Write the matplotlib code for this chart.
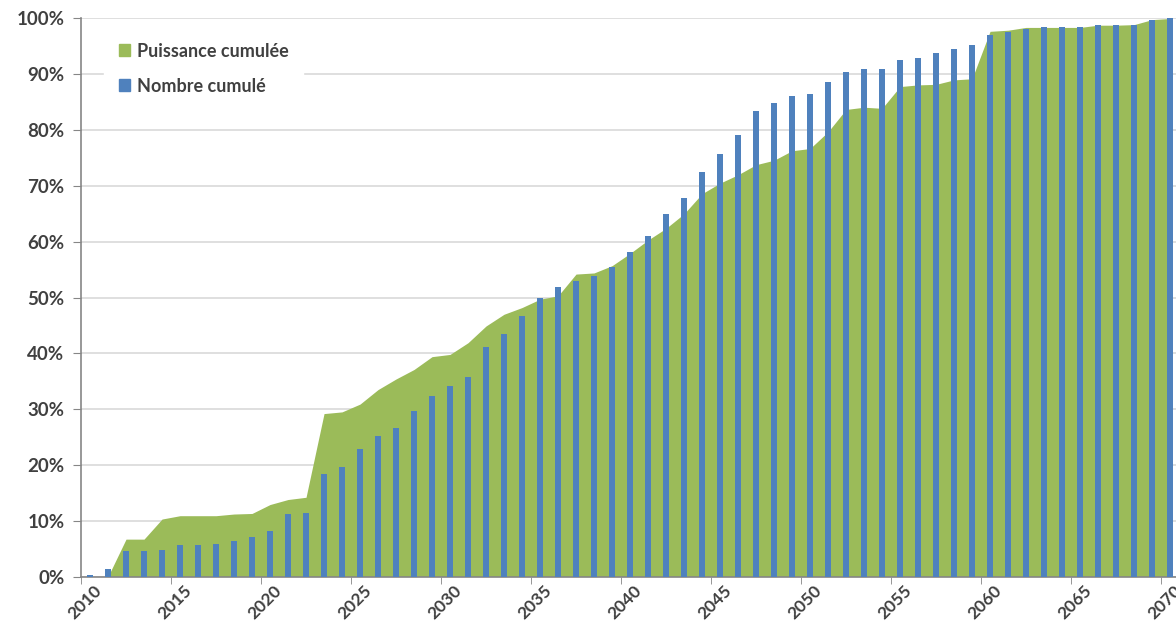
import matplotlib.pyplot as plt
import numpy as np
from matplotlib.patches import Patch
from matplotlib.ticker import FuncFormatter

years = np.arange(2010, 2071)

puissance = [0, 0, 6.7, 6.7, 10.3, 10.9, 10.9, 10.9, 11.2, 11.3,
             12.9, 13.8, 14.2, 29.2, 29.5, 30.9, 33.5, 35.4, 37.1, 39.4,
             39.8, 41.9, 44.9, 47.0, 48.2, 49.7, 50.3, 54.2, 54.4, 55.7,
             57.9, 60.3, 62.4, 65.0, 68.6, 70.5, 72.0, 73.8, 74.6, 76.3,
             76.7, 79.7, 83.7, 84.1, 83.9, 87.8, 88.1, 88.2, 89.0, 89.2,
             97.7, 97.9, 98.4, 98.4, 98.4, 98.4, 98.8, 98.8, 98.9, 99.8,
             100]

nombre = [0.3, 1.4, 4.5, 4.5, 4.8, 5.6, 5.6, 5.9, 6.3, 7.1,
          8.1, 11.2, 11.4, 18.3, 19.6, 22.9, 25.1, 26.6, 29.6, 32.4,
          34.2, 35.7, 41.1, 43.5, 46.6, 49.9, 51.9, 52.9, 53.9, 55.4,
          58.2, 61.1, 64.9, 67.9, 72.5, 75.8, 79.1, 83.4, 84.9, 86.2,
          86.5, 88.7, 90.5, 91.0, 91.0, 92.5, 93.0, 93.8, 94.6, 95.3,
          97.1, 97.5, 98.2, 98.4, 98.4, 98.4, 98.8, 98.8, 98.8, 99.8,
          100]

green = "#9BBB59"
blue = "#4F81BD"
txt = "#404040"

plt.rcParams['font.family'] = ['Lato', 'DejaVu Sans']

fig = plt.figure(figsize=(11.76, 6.27), dpi=100)
ax = fig.add_axes([0.0689, 0.0805, 0.9337, 0.890])

ax.fill_between(years, np.array(puissance) / 100, color=green, lw=0, zorder=2)
ax.bar(years, np.array(nombre) / 100, width=0.36, color=blue, zorder=3)

ax.set_xlim(2009.5, 2070.5)
ax.set_ylim(0, 1)
ax.set_yticks(np.arange(0, 1.01, 0.1))
ax.yaxis.set_major_formatter(FuncFormatter(lambda v, p: "%d%%" % round(v * 100)))
ax.yaxis.grid(True, color="#D9D9D9", lw=1.2, zorder=0)
ax.set_axisbelow(True)

# labels near category centres, tick marks between categories
ax.set_xticks(years[::5] + 0.2)
ax.set_xticklabels([str(y) for y in years[::5]], rotation=45, ha="right",
                   rotation_mode="anchor")
ax.tick_params(axis="x", length=0, pad=4)
ax.set_xticks(years[::5] - 0.5, minor=True)
ax.tick_params(axis="x", which="minor", length=5, color="#868686")
ax.tick_params(axis="y", length=6, color="#868686", pad=6)
for lab in ax.get_yticklabels():
    lab.set_fontsize(13.5)
for lab in ax.get_xticklabels():
    lab.set_fontsize(12.5)
for lab in ax.get_xticklabels() + ax.get_yticklabels():
    lab.set_fontweight("bold")
    lab.set_color(txt)

for s in ["top", "right"]:
    ax.spines[s].set_visible(False)
ax.spines["left"].set_color("#868686")
ax.spines["bottom"].set_color("#868686")
ax.spines["left"].set_linewidth(1.2)
ax.spines["bottom"].set_linewidth(1.2)

handles = [Patch(color=green, label="Puissance cumulée"),
           Patch(color=blue, label="Nombre cumulé")]
leg = ax.legend(handles=handles, loc="upper left", bbox_to_anchor=(0.013, 0.999),
                frameon=True, framealpha=1, edgecolor="white", fancybox=False,
                handlelength=0.6, handleheight=0.6, handletextpad=0.4,
                labelspacing=1.0, borderpad=0.8, prop={"size": 13, "weight": "bold"})
for t in leg.get_texts():
    t.set_color(txt)

fig.savefig("out.png", dpi=100)
